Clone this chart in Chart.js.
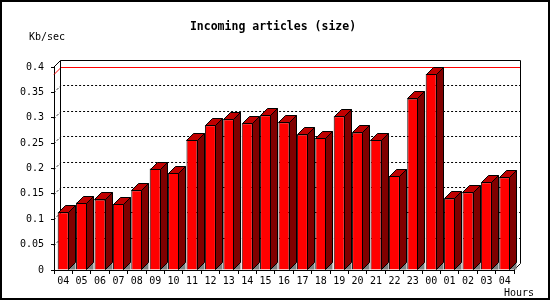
<!DOCTYPE html>
<html>
<head>
<meta charset="utf-8">
<script src="https://cdn.jsdelivr.net/npm/chart.js@4.4.1/dist/chart.umd.min.js"></script>
<style>
  html, body { margin: 0; padding: 0; background: #fff; }
  #wrap { width: 550px; height: 300px; }
</style>
</head>
<body>
<div id="wrap"><canvas id="c" width="550" height="300"></canvas></div>
<script>
// incoming articles, kb/sec per hour
const hours = ['04', '05', '06', '07', '08', '09', '10', '11', '12', '13', '14', '15', '16',
               '17', '18', '19', '20', '21', '22', '23', '00', '01', '02', '03', '04'];
const sizeKbSec = [0.114, 0.133, 0.139, 0.130, 0.157, 0.200, 0.191, 0.257, 0.285, 0.297, 0.289, 0.305, 0.291,
                   0.267, 0.261, 0.303, 0.271, 0.257, 0.185, 0.338, 0.386, 0.141, 0.153, 0.173, 0.183];
const yMax = 0.4;
const yStep = 0.05;

const DEPTH = 7;
const MONO = '"DejaVu Sans Mono", "Liberation Mono", monospace';

// back wall, dotted grid, max line, 3d sides/tops and the texts
const threeD = {
    id: 'threeD',
    beforeDatasetsDraw(chart) {
        const { ctx, chartArea: a, scales: { y } } = chart;
        const d = DEPTH;
        ctx.save();
        ctx.lineWidth = 1;
        ctx.strokeStyle = '#000';
        // dotted grid on the back wall
        ctx.setLineDash([2, 2]);
        y.ticks.forEach(t => {
            if (t.value <= 0 || t.value >= yMax - 1e-9) return;
            const py = Math.round(y.getPixelForValue(t.value)) + 0.5;
            ctx.beginPath();
            ctx.moveTo(a.left, py);
            ctx.lineTo(a.left + d, py - d);
            ctx.lineTo(a.right + d, py - d);
            ctx.stroke();
        });
        ctx.setLineDash([]);
        // max value line
        const maxV = Math.max(...sizeKbSec);
        const my = Math.round(y.getPixelForValue(maxV)) + 0.5;
        ctx.strokeStyle = '#ff0000';
        ctx.beginPath();
        ctx.moveTo(a.left, my);
        ctx.lineTo(a.left + d, my - d);
        ctx.lineTo(a.right + d, my - d);
        ctx.stroke();
        // back box
        ctx.strokeStyle = '#000';
        const t = Math.round(a.top) + 0.5, b = Math.round(a.bottom) + 0.5;
        const l = Math.round(a.left) - 0.5, r = Math.round(a.right) - 0.5;
        ctx.beginPath();
        ctx.moveTo(l, t);
        ctx.lineTo(l + d, t - d);
        ctx.lineTo(r + d, t - d);
        ctx.lineTo(r + d, b - d);
        ctx.lineTo(r, b);
        ctx.moveTo(l + d, t - d);
        ctx.lineTo(l + d, b - d);
        ctx.stroke();
        ctx.restore();
    },
    afterDatasetsDraw(chart) {
        const { ctx } = chart;
        const d = DEPTH;
        ctx.save();
        ctx.lineWidth = 1;
        ctx.strokeStyle = '#000';
        chart.getDatasetMeta(0).data.forEach(bar => {
            const l = Math.round(bar.x - bar.width / 2) + 0.5;
            const r = Math.round(bar.x + bar.width / 2) - 0.5;
            const top = Math.round(bar.y) + 0.5;
            const base = Math.round(bar.base) - 0.5;
            // floor shadow
            ctx.fillStyle = '#808080';
            ctx.beginPath();
            ctx.moveTo(r, base);
            ctx.lineTo(r + d, base - d);
            ctx.lineTo(r + d, base);
            ctx.closePath();
            ctx.fill();
            // side
            ctx.fillStyle = '#800000';
            ctx.beginPath();
            ctx.moveTo(r, top);
            ctx.lineTo(r + d, top - d);
            ctx.lineTo(r + d, base - d);
            ctx.lineTo(r, base);
            ctx.closePath();
            ctx.fill();
            ctx.stroke();
            // top
            ctx.fillStyle = '#c00000';
            ctx.beginPath();
            ctx.moveTo(l, top);
            ctx.lineTo(l + d, top - d);
            ctx.lineTo(r + d, top - d);
            ctx.lineTo(r, top);
            ctx.closePath();
            ctx.fill();
            ctx.stroke();
        });
        ctx.restore();
    },
    afterDraw(chart) {
        const { ctx, width, height } = chart;
        ctx.save();
        ctx.fillStyle = '#000';
        ctx.textBaseline = 'middle';
        ctx.textAlign = 'center';
        ctx.font = 'bold 11.5px ' + MONO;
        ctx.fillText('Incoming articles (size)', 273, 27);
        ctx.textAlign = 'left';
        ctx.font = '10px ' + MONO;
        ctx.fillText('Kb/sec', 29, 37);
        ctx.fillText('Hours', 504, 293);
        // outer frame
        ctx.strokeStyle = '#000';
        ctx.lineWidth = 2;
        ctx.strokeRect(1, 1, width - 2, height - 2);
        ctx.restore();
    }
};

new Chart(document.getElementById('c'), {
    type: 'bar',
    data: {
        labels: hours,
        datasets: [{
            label: 'Kb/sec',
            data: sizeKbSec,
            backgroundColor: '#ff0000',
            borderColor: '#000',
            borderWidth: 1,
            barPercentage: 0.6,
            categoryPercentage: 1.0,
        }],
    },
    options: {
        responsive: false,
        animation: false,
        devicePixelRatio: 1,
        layout: { padding: { top: 67, right: 36, left: 0, bottom: 0 } },
        plugins: { legend: { display: false }, tooltip: { enabled: false }, title: { display: false } },
        scales: {
            x: {
                offset: true,
                grid: { offset: true, drawOnChartArea: false, drawTicks: true, tickLength: 4, color: '#000' },
                border: { display: true, color: '#000' },
                ticks: { font: { family: MONO, size: 10 }, color: '#000', padding: 1, maxRotation: 0, autoSkip: false },
                afterFit(s) { s.height = 30; },
            },
            y: {
                min: 0, max: yMax,
                grid: { drawOnChartArea: false, drawTicks: true, tickLength: 3, color: '#000' },
                border: { display: true, color: '#000' },
                ticks: {
                    stepSize: yStep,
                    font: { family: MONO, size: 10 }, color: '#000', padding: 7,
                    callback: v => String(+v.toFixed(2)),
                },
                afterFit(s) { s.width = 54; },
            },
        },
    },
    plugins: [threeD],
});
</script>
</body>
</html>
